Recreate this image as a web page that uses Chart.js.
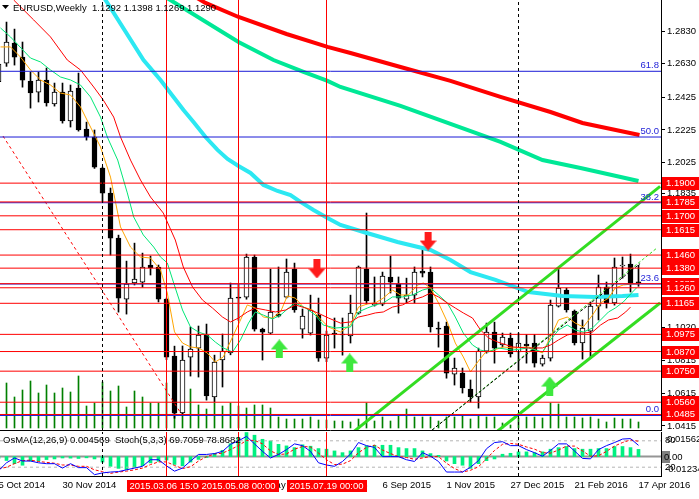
<!DOCTYPE html>
<html>
<head>
<meta charset="utf-8">
<script src="https://cdn.jsdelivr.net/npm/chart.js@4.4.1/dist/chart.umd.min.js"></script>
<style>
  html, body { margin: 0; padding: 0; background: #fff; overflow: hidden; }
  #main { position: absolute; left: 0; top: 0; width: 699px; height: 431px; }
  #osc { position: absolute; left: 0; top: 432px; width: 699px; height: 67px; }
</style>
</head>
<body>
<canvas id="main" width="699" height="431"></canvas>
<canvas id="osc" width="699" height="67"></canvas>
<script>
// weekly EURUSD bars, index 0 = week of 5 Oct 2014, index 80 = week of 17 Apr 2016
const opens = [
  1.2520, 1.2634, 1.2757, 1.2671, 1.2524, 1.2457, 1.2530, 1.2384, 1.2457, 1.2280,
  1.2481, 1.2231, 1.2182, 1.1992, 1.1839, 1.1564, 1.1191, 1.1289, 1.1295, 1.1399,
  1.1387, 1.1191, 1.0842, 1.0494, 1.0836, 1.0891, 1.0971, 1.0592, 1.0818, 1.0861,
  1.1203, 1.1203, 1.1448, 1.1007, 1.0983, 1.1099, 1.1203, 1.1374, 1.1007, 1.0983,
  1.1093, 1.0830, 1.0983, 1.0977, 1.0965, 1.1105, 1.1374, 1.1154, 1.1160, 1.1326,
  1.1283, 1.1191, 1.1215, 1.1362, 1.1356, 1.1013, 1.1026, 1.0732, 1.0738, 1.0641,
  1.0592, 1.0873, 1.0989, 1.0910, 1.0953, 1.0867, 1.0916, 1.0922, 1.0793, 1.0830,
  1.1148, 1.1246, 1.1118, 1.0922, 1.0995, 1.1148, 1.1264, 1.1167, 1.1393, 1.1405,
  1.1292
];
const highs = [
  1.2790, 1.2885, 1.2842, 1.2763, 1.2579, 1.2579, 1.2604, 1.2512, 1.2512, 1.2500,
  1.2573, 1.2273, 1.2225, 1.1998, 1.1870, 1.1582, 1.1423, 1.1533, 1.1472, 1.1454,
  1.1399, 1.1197, 1.0903, 1.0904, 1.1020, 1.1026, 1.1038, 1.0848, 1.0977, 1.1289,
  1.1280, 1.1466, 1.1460, 1.1013, 1.1374, 1.1387, 1.1436, 1.1411, 1.1130, 1.1215,
  1.1197, 1.0995, 1.1075, 1.1075, 1.1215, 1.1393, 1.1717, 1.1326, 1.1356, 1.1454,
  1.1326, 1.1319, 1.1387, 1.1503, 1.1387, 1.1050, 1.1050, 1.0830, 1.0769, 1.0696,
  1.0891, 1.1044, 1.1050, 1.0983, 1.0983, 1.0983, 1.0975, 1.0975, 1.0848, 1.1185,
  1.1380, 1.1258, 1.1124, 1.1063, 1.1173, 1.1338, 1.1295, 1.1442, 1.1448, 1.1466,
  1.1398
];
const lows = [
  1.2500, 1.2614, 1.2622, 1.2487, 1.2359, 1.2396, 1.2371, 1.2371, 1.2267, 1.2243,
  1.2218, 1.2163, 1.1990, 1.1784, 1.1460, 1.1111, 1.1099, 1.1277, 1.1264, 1.1338,
  1.1173, 1.0820, 1.0462, 1.0480, 1.0720, 1.0714, 1.0573, 1.0561, 1.0653, 1.0850,
  1.1060, 1.1190, 1.0995, 1.0818, 1.0977, 1.1081, 1.1197, 1.1110, 1.0952, 1.0971,
  1.0810, 1.0808, 1.0891, 1.0848, 1.0922, 1.1099, 1.1160, 1.1148, 1.1150, 1.1228,
  1.1105, 1.1167, 1.1167, 1.1326, 1.0989, 1.0897, 1.0707, 1.0665, 1.0616, 1.0561,
  1.0524, 1.0860, 1.0799, 1.0897, 1.0836, 1.0757, 1.0799, 1.0775, 1.0781, 1.0812,
  1.1142, 1.1111, 1.0910, 1.0824, 1.0830, 1.1063, 1.1136, 1.1154, 1.1319, 1.1234,
  1.1269
];
const closes = [
  1.2628, 1.2763, 1.2671, 1.2530, 1.2451, 1.2530, 1.2390, 1.2457, 1.2280, 1.2463,
  1.2225, 1.2182, 1.1998, 1.1839, 1.1564, 1.1197, 1.1283, 1.1313, 1.1387, 1.1381,
  1.1191, 1.0836, 1.0493, 1.0818, 1.0885, 1.0971, 1.0598, 1.0806, 1.0873, 1.1197,
  1.1197, 1.1448, 1.1007, 1.0989, 1.1111, 1.1087, 1.1356, 1.1124, 1.1087, 1.1124,
  1.0830, 1.0971, 1.0977, 1.0971, 1.1105, 1.1387, 1.1179, 1.1167, 1.1332, 1.1295,
  1.1197, 1.1215, 1.1356, 1.1350, 1.1020, 1.1007, 1.0738, 1.0769, 1.0647, 1.0592,
  1.0873, 1.0989, 1.0891, 1.0959, 1.0855, 1.0922, 1.0904, 1.0799, 1.0830, 1.1154,
  1.1258, 1.1124, 1.0922, 1.1014, 1.1148, 1.1264, 1.1167, 1.1387, 1.1399, 1.1289,
  1.1290
];
// tick volume, thousands
const volumeK = [
  40, 45, 31, 38, 47, 35, 43, 35, 40, 36,
  52, 22, 25, 46, 37, 42, 21, 37, 31, 25,
  25, 45, 43, 36, 39, 23, 19, 25, 22, 25,
  22, 20, 23, 23, 20, 11, 9, 9, 9, 11,
  8, 8, 7, 7, 6, 9, 25, 7, 11, 7,
  12, 19, 11, 11, 11, 7, 11, 11, 13, 9,
  13, 11, 11, 5, 3, 10, 11, 11, 10, 25,
  24, 11, 11, 10, 11, 9, 6, 10, 9, 9,
  6
];
const osma = [
  -0.0012, -0.0025, -0.0045, -0.0055, -0.0028, -0.0027, -0.0019, -0.0015, -0.0009, -0.0010,
  -0.0012, -0.0008, -0.0015, -0.0035, -0.0062, -0.0075, -0.0082, -0.0068, -0.0058, -0.0040,
  -0.0030, -0.0022, -0.0050, -0.0058, -0.0035, -0.0018, -0.0006, 0.0020, 0.0040, 0.0082,
  0.0120, 0.0153, 0.0136, 0.0110, 0.0100, 0.0078, 0.0068, 0.0057, 0.0075, 0.0066,
  0.0051, 0.0047, 0.0036, 0.0025, 0.0036, 0.0057, 0.0068, 0.0072, 0.0072, 0.0072,
  0.0057, 0.0051, 0.0051, 0.0036, 0.0019, 0.0008, -0.0028, -0.0045, -0.0055, -0.0075,
  -0.0045, -0.0026, -0.0015, 0.0015, 0.0021, 0.0030, 0.0030, 0.0025, 0.0030, 0.0047,
  0.0057, 0.0064, 0.0051, 0.0047, 0.0047, 0.0051, 0.0051, 0.0064, 0.0064, 0.0057,
  0.004569
];
const stochMain = [
  12, 30, 41, 34, 34, 30, 28, 28, 18, 28,
  19, 19, 3, 7, 9, 10, 14, 18, 22, 37,
  37, 23, 11, 18, 34, 49, 49, 51, 56, 72,
  80, 90, 73, 56, 41, 49, 60, 73, 69, 56,
  30, 25, 22, 33, 50, 76, 69, 65, 44, 44,
  44, 37, 33, 53, 45, 33, 9, 9, 9, 20,
  35, 62, 76, 78, 69, 69, 60, 53, 45, 58,
  73, 73, 57, 40, 39, 60, 69, 76, 84, 85,
  69.7059
];
const stochSignal = [
  16, 20, 28, 35, 36, 33, 31, 29, 25, 25,
  22, 22, 14, 10, 6, 9, 11, 14, 18, 26,
  32, 32, 24, 17, 21, 34, 44, 50, 52, 60,
  69, 81, 81, 73, 57, 49, 50, 61, 67, 66,
  52, 37, 26, 27, 35, 53, 65, 70, 59, 51,
  44, 42, 38, 41, 44, 44, 29, 17, 9, 13,
  21, 39, 58, 72, 74, 72, 66, 61, 53, 52,
  59, 68, 68, 57, 45, 46, 56, 68, 76, 82,
  78.8682
];

// moving averages: [bar index, price]
const maFast = [[0.25,1.2733],[1.5,1.2733],[2.75,1.2671],[4,1.2592],[5.25,1.2531],[6.5,1.2500],[7.75,1.2451],[9,1.2439],[10.25,1.2366],[11.5,1.2243],[12.75,1.2121],[14,1.1937],[15.25,1.1632],[16.5,1.1509],[17.75,1.1448],[19,1.1442],[20.25,1.1369],[21.1,1.1228],[22,1.0990],[23,1.0922],[24,1.0898],[25,1.0892],[26.1,1.0861],[27.1,1.0806],[28.1,1.0837],[29.25,1.0959],[30.25,1.1063],[31.1,1.1155],[32.1,1.1136],[33.1,1.1081],[34.25,1.1075],[35.25,1.1112],[36.1,1.1210],[37.1,1.1197],[38.1,1.1142],[39.25,1.1124],[40,1.1081],[41.25,1.1020],[42.75,1.0989],[44,1.1032],[45,1.1142],[46.1,1.1161],[47.1,1.1167],[48.1,1.1197],[49.25,1.1246],[50.25,1.1216],[51.25,1.1216],[52.4,1.1277],[53.1,1.1289],[54,1.1259],[55,1.1167],[56.1,1.1051],[57.1,1.0922],[58.1,1.0837],[59,1.0745],[59.9,1.0806],[60.9,1.0867],[61.9,1.0879],[63.1,1.0898],[64.25,1.0892],[66.25,1.0898],[68,1.0861],[69,1.0959],[70,1.1063],[71.1,1.1081],[72.1,1.1044],[73.1,1.1020],[74.25,1.1093],[75.25,1.1167],[76.25,1.1197],[77.1,1.1259],[78.1,1.1277],[79.25,1.1283],[80,1.1283]];
const maMid = [[0.25,1.2849],[1.5,1.2794],[4,1.2665],[5.25,1.2641],[6.5,1.2592],[7.75,1.2549],[9,1.2531],[10.25,1.2500],[11.5,1.2427],[12.75,1.2304],[13.6,1.2182],[14.9,1.2041],[16.1,1.1840],[16.9,1.1693],[18.1,1.1583],[19.4,1.1509],[20.25,1.1448],[21.1,1.1412],[21.9,1.1289],[23,1.1124],[24,1.1020],[25,1.0989],[26.1,1.0971],[27.1,1.0928],[28.1,1.0892],[29.25,1.0867],[30.25,1.0941],[31.25,1.1044],[32.1,1.1112],[33.1,1.1093],[34.25,1.1069],[35.25,1.1093],[36.25,1.1136],[37.1,1.1167],[38.4,1.1136],[39.6,1.1093],[40.6,1.1032],[42.1,1.1014],[44,1.1020],[45,1.1112],[46.1,1.1136],[47.1,1.1155],[48.1,1.1167],[49.25,1.1204],[50.5,1.1204],[51.75,1.1216],[53,1.1246],[54,1.1259],[55,1.1216],[56.1,1.1167],[57.1,1.1081],[58.1,1.0983],[59.25,1.0910],[60.25,1.0879],[61.25,1.0867],[62.4,1.0892],[64.25,1.0879],[66.25,1.0892],[68,1.0867],[69,1.0941],[70,1.1002],[71.1,1.1032],[72.1,1.1002],[73.1,1.0989],[74.25,1.1014],[75.25,1.1063],[76.25,1.1112],[77.1,1.1136],[78.1,1.1173],[79.25,1.1234],[79.75,1.1259]];
const maSlow = [[1.9,1.3020],[4.4,1.2898],[6.5,1.2794],[8.6,1.2653],[10.25,1.2592],[11.9,1.2488],[13.1,1.2408],[14.4,1.2304],[15.25,1.2182],[16.5,1.2041],[17.75,1.1919],[19,1.1815],[20.6,1.1717],[22.1,1.1552],[23.1,1.1387],[24.25,1.1265],[25.5,1.1185],[26.75,1.1136],[28,1.1081],[29,1.1051],[30,1.1075],[31.1,1.1112],[32.1,1.1136],[33.4,1.1124],[34.6,1.1112],[35.9,1.1124],[37.1,1.1155],[38.4,1.1136],[39.9,1.1106],[41.25,1.1075],[42.75,1.1044],[44,1.1051],[45,1.1081],[46.1,1.1093],[47.1,1.1106],[48.1,1.1112],[49.25,1.1142],[50.5,1.1155],[51.75,1.1185],[53,1.1204],[54,1.1228],[55,1.1204],[56.1,1.1167],[57.1,1.1136],[58.1,1.1106],[59.25,1.1075],[60.25,1.1002],[61.25,1.0953],[62.4,1.0928],[64.25,1.0898],[66.25,1.0892],[68,1.0892],[69,1.0910],[70,1.0941],[71.1,1.0971],[72.1,1.0983],[73.1,1.0983],[74.25,1.0989],[75.25,1.1032],[76.25,1.1063],[77.4,1.1075],[78.4,1.1112],[79,1.1142]];
const maCyan = [[12.75,1.3069],[13.375,1.3020],[18.125,1.2653],[20.25,1.2531],[21.875,1.2427],[23.125,1.2347],[24.375,1.2274],[25.875,1.2182],[27.375,1.2103],[28.625,1.2048],[30,1.2005],[31.5,1.1962],[33.125,1.1889],[34.875,1.1852],[36.5,1.1827],[37.75,1.1785],[39.375,1.1736],[41.125,1.1687],[42.75,1.1644],[45.625,1.1601],[49.875,1.1540],[54,1.1491],[56.5,1.1430],[59,1.1356],[62.125,1.1308],[66.25,1.1234],[70.5,1.1210],[74.625,1.1204],[78,1.1210],[80,1.1216]];
const maGreen = [[20.875,1.3038],[30,1.2763],[34.375,1.2653],[38.125,1.2580],[41.125,1.2525],[42.75,1.2488],[50.25,1.2372],[56.5,1.2262],[62.75,1.2152],[68,1.2041],[72.75,1.1993],[80,1.1913]];
const maRed = [[24.625,1.3038],[25.875,1.3002],[30,1.2916],[36,1.2812],[41.125,1.2733],[44,1.2696],[50.25,1.2610],[56.5,1.2525],[62.75,1.2427],[69,1.2335],[73,1.2268],[80.125,1.2194]];

// drawn objects
const levelPrices = [1.1900, 1.1785, 1.1700, 1.1615, 1.1460, 1.1380, 1.1285, 1.1260, 1.1165, 1.0975, 1.0870, 1.0750, 1.0560, 1.0485];
const fibLabels = ['0.0', '23.6', '38.2', '50.0', '61.8'];
const fibPrices = [1.0479, 1.1283, 1.1780, 1.2182, 1.2584];
const redMarks = [21, 30, 41];
const redMarkLabels = ['2015.03.06 15:00', '2015.05.08 00:00', '2015.07.19 00:00'];
const yearSeps = [13, 65];
const channelUpper = [[44.2, 1.0372], [82.7, 1.1880]];
const channelLower = [[62.4, 1.0384], [82.7, 1.1167]];
const channelMid = [[54.2, 1.0390], [82.3, 1.1503]];
const trendMid = [[54.2, 1.0390], [80.2, 1.1408]];
const trendDown = [[0.56, 1.2188], [22.7, 1.0500]];
const arrowDownAt = [39.8, 53.7], arrowDownPrice = [1.1375, 1.1546];
const arrowUpAt = [35.1, 43.9, 68.9], arrowUpPrice = [1.0886, 1.0800, 1.0659];

// axes
const priceTicks = [1.0415, 1.0615, 1.0815, 1.1020, 1.1230, 1.1435, 1.1625, 1.1835, 1.2025, 1.2225, 1.2425, 1.2630, 1.2830];
const dateTicks = [0, 8, 16, 24, 32, 40, 48, 56, 64, 72, 80];
const dateLabels = ['5 Oct 2014', '30 Nov 2014', '25 Jan 2015', '22 Mar 2015', '17 May 2015', '12 Jul 2015', '6 Sep 2015', '1 Nov 2015', '27 Dec 2015', '21 Feb 2016', '17 Apr 2016'];
const symbolTitle = 'EURUSD,Weekly';

const X_MIN = 0.1875, X_MAX = 82.8125;
const Y_MIN = 1.0384, Y_MAX = 1.3020;
const OSMA_MIN = -0.012344, OSMA_MAX = 0.015628;
const FONT = '"Liberation Sans", Arial, sans-serif';
Chart.defaults.font.family = FONT;
Chart.defaults.font.size = 9.5;
Chart.defaults.color = '#000';

const path = (pts, color, width, dash, order, axis) => ({
  type: 'line',
  data: pts.map(([x, y]) => ({ x, y })),
  yAxisID: axis || 'y',
  borderColor: color,
  borderWidth: width,
  borderDash: dash || [],
  pointRadius: 0,
  fill: false,
  order
});
const hline = (p, color, width, dash, order, axis) =>
  path([[X_MIN, p], [X_MAX, p]], color, width, dash, order, axis);
const vline = (i, color, dash, lo, hi, axis) =>
  path([[i, lo], [i, hi]], color, 1, dash, 1, axis);

function arrowIcon(fill, up) {
  const c = document.createElement('canvas');
  c.width = 17; c.height = 19;
  const g = c.getContext('2d');
  if (up) { g.translate(0, 19); g.scale(1, -1); }
  g.beginPath();
  g.moveTo(5, 0); g.lineTo(12, 0); g.lineTo(12, 9); g.lineTo(17, 9);
  g.lineTo(8.5, 19); g.lineTo(0, 9); g.lineTo(5, 9); g.closePath();
  g.fillStyle = fill;
  g.fill();
  return c;
}
const arrows = (at, price, icon) => ({
  type: 'line',
  data: at.map((x, k) => ({ x, y: price[k] })),
  showLine: false,
  pointStyle: icon,
  pointRadius: 6,
  order: 0
});

const mainSets = [
  { type: 'bar', data: volumeK.map((v, i) => ({ x: i, y: v })), yAxisID: 'yv',
    backgroundColor: '#008000', barThickness: 1, grouped: false, order: 9 },
  { type: 'bar', data: lows.map((l, i) => ({ x: i, y: [l, highs[i]] })),
    backgroundColor: '#000', barThickness: 1, grouped: false, order: 8 },
  { type: 'bar', data: opens.map((o, i) => ({ x: i, y: [o, closes[i]] })),
    backgroundColor: opens.map((o, i) => closes[i] > o ? '#fff' : '#000'),
    borderColor: '#000', borderWidth: 1, borderSkipped: false,
    barThickness: 5, minBarLength: 1, grouped: false, order: 7 },
  path(maRed, '#ff0000', 4, null, 5),
  path(maGreen, '#00e896', 4, null, 5),
  path(maCyan, '#2ce8f2', 4, null, 5),
  path(maSlow, '#ff0000', 1, null, 4),
  path(maMid, '#00e676', 1, null, 4),
  path(maFast, '#ffa500', 1, null, 4),
  ...fibPrices.map(p => hline(p, '#1a1ad6', 1, null, 3)),
  ...levelPrices.map(p => hline(p, '#ff0000', 1, null, 2)),
  path(trendDown, '#ff0000', 1, [3, 3], 3),
  path(channelUpper, '#33dd22', 3, null, 3),
  path(channelLower, '#33dd22', 3, null, 3),
  path(channelMid, '#33dd22', 1, [3, 2], 3),
  path(trendMid, '#000', 1, [3, 2], 2),
  ...redMarks.map(i => vline(i, '#ff0000', null, Y_MIN, Y_MAX)),
  ...yearSeps.map(i => vline(i, '#000', [3, 3], Y_MIN, Y_MAX)),
  arrows(arrowDownAt, arrowDownPrice, arrowIcon('#ff1a1a', false)),
  arrows(arrowUpAt, arrowUpPrice, arrowIcon('#3ee83e', true))
];

const mainDecor = {
  id: 'mainDecor',
  afterDraw(chart) {
    const { ctx, chartArea: a } = chart;
    const y = chart.scales.y;
    ctx.save();
    ctx.strokeStyle = '#000';
    ctx.lineWidth = 1;
    ctx.beginPath();
    ctx.moveTo(0, a.bottom - 0.5);
    ctx.lineTo(a.right, a.bottom - 0.5);
    ctx.stroke();

    ctx.fillStyle = '#000';
    ctx.beginPath();
    ctx.moveTo(2, 5); ctx.lineTo(9, 5); ctx.lineTo(5.5, 9); ctx.closePath();
    ctx.fill();
    ctx.font = '9.5px ' + FONT;
    ctx.textBaseline = 'middle';
    ctx.textAlign = 'left';
    const last = opens.length - 1;
    ctx.fillText(symbolTitle + '  ' + [opens[last], highs[last], lows[last], closes[last]]
      .map(v => v.toFixed(4)).join(' '), 13, 8);

    ctx.fillStyle = '#2424d8';
    ctx.textAlign = 'right';
    ctx.textBaseline = 'bottom';
    fibPrices.forEach((p, k) => ctx.fillText(fibLabels[k], a.right - 2, y.getPixelForValue(p) - 1));

    ctx.textAlign = 'left';
    ctx.textBaseline = 'middle';
    levelPrices.forEach(p => {
      const py = Math.round(y.getPixelForValue(p));
      ctx.fillStyle = '#ff0000';
      ctx.fillRect(a.right + 1, py - 6, 37, 13);
      ctx.fillStyle = '#fff';
      ctx.fillText(p.toFixed(4), a.right + 5, py + 0.5);
    });
    ctx.restore();
  }
};

new Chart(document.getElementById('main'), {
  type: 'bar',
  data: { datasets: mainSets },
  options: {
    responsive: false,
    animation: false,
    events: [],
    layout: { padding: 0, autoPadding: false },
    plugins: { legend: { display: false }, tooltip: { enabled: false } },
    scales: {
      x: { type: 'linear', min: X_MIN, max: X_MAX, display: false, offset: false },
      y: {
        type: 'linear', position: 'right', min: Y_MIN, max: Y_MAX,
        afterFit(s) { s.width = 38; s.paddingTop = 0; s.paddingBottom = 0; },
        afterBuildTicks(s) { s.ticks = priceTicks.map(v => ({ value: v })); },
        ticks: { callback: v => Number(v).toFixed(4), padding: 2, color: '#000' },
        grid: { drawOnChartArea: false, drawTicks: true, tickLength: 4, color: '#000' },
        border: { display: true, color: '#000' }
      },
      yv: { type: 'linear', display: false, min: -3, max: 428 }
    }
  },
  plugins: [mainDecor]
});

const last = osma.length - 1;
const oscTitle = 'OsMA(12,26,9) ' + osma[last].toFixed(6) + '  Stoch(5,3,3) ' +
  stochMain[last].toFixed(4) + ' ' + stochSignal[last].toFixed(4);

const oscSets = [
  hline(0, '#959595', 2, null, 8, 'yo'),
  { type: 'bar', data: osma.map((v, i) => ({ x: i, y: v })), yAxisID: 'yo',
    backgroundColor: '#00f080', barThickness: 3, grouped: false, order: 6 },
  hline(80, '#b4b4b4', 1, [3, 3], 5, 'ys'),
  hline(20, '#b4b4b4', 1, [3, 3], 5, 'ys'),
  path(stochSignal.map((v, i) => [i, v]), '#ff0000', 1, [3, 2], 3, 'ys'),
  path(stochMain.map((v, i) => [i, v]), '#0000ff', 1, null, 2, 'ys'),
  ...redMarks.map(i => vline(i, '#ff0000', null, 0, 100, 'ys')),
  ...yearSeps.map(i => vline(i, '#000', [3, 3], 0, 100, 'ys'))
];

const oscDecor = {
  id: 'oscDecor',
  afterDraw(chart) {
    const { ctx, chartArea: a } = chart;
    const x = chart.scales.x;
    ctx.save();
    ctx.font = '9.5px ' + FONT;
    ctx.textBaseline = 'middle';
    ctx.textAlign = 'left';
    ctx.fillStyle = '#000';
    ctx.fillText(oscTitle, 3, a.top + 8.5);

    ctx.fillText(OSMA_MAX.toFixed(6), a.right + 6, a.top + 7);
    ctx.fillText(OSMA_MIN.toFixed(6), a.right + 4, a.top + 37);
    ctx.fillStyle = '#808080';
    ctx.fillRect(a.right + 1, a.top + 19, 8, 12);
    ctx.fillStyle = '#000';
    ctx.fillText((0).toFixed(2), a.right + 3, a.top + 25);

    ctx.textAlign = 'center';
    redMarks.forEach((i, k) => {
      const cx = x.getPixelForValue(i);
      const w = ctx.measureText(redMarkLabels[k]).width + 6;
      ctx.fillStyle = '#ff0000';
      ctx.fillRect(Math.round(cx - w / 2), a.bottom + 4, Math.round(w), 12);
      ctx.fillStyle = '#fff';
      ctx.fillText(redMarkLabels[k], cx, a.bottom + 10.5);
    });
    ctx.restore();
  }
};

new Chart(document.getElementById('osc'), {
  type: 'bar',
  data: { datasets: oscSets },
  options: {
    responsive: false,
    animation: false,
    events: [],
    layout: { padding: 0, autoPadding: false },
    plugins: { legend: { display: false }, tooltip: { enabled: false } },
    scales: {
      x: {
        type: 'linear', min: X_MIN, max: X_MAX, offset: false, position: 'bottom',
        afterFit(s) { s.height = 23; s.paddingLeft = 0; s.paddingRight = 0; },
        afterBuildTicks(s) { s.ticks = dateTicks.map(v => ({ value: v })); },
        ticks: {
          autoSkip: false, maxRotation: 0, minRotation: 0, align: 'start', padding: 4,
          color: '#000', callback: v => dateLabels[dateTicks.indexOf(v)]
        },
        grid: { drawOnChartArea: false, drawTicks: false },
        border: { display: true, color: '#000' }
      },
      ys: {
        type: 'linear', position: 'right', min: 0, max: 100,
        afterFit(s) { s.width = 38; s.paddingTop = 0; s.paddingBottom = 0; },
        afterBuildTicks(s) { s.ticks = [{ value: 20 }, { value: 80 }]; },
        ticks: { padding: 4, color: '#000' },
        grid: { drawOnChartArea: false, drawTicks: false },
        border: { display: true, color: '#000' }
      },
      yo: { type: 'linear', display: false, min: OSMA_MIN, max: OSMA_MAX }
    }
  },
  plugins: [oscDecor]
});
</script>
</body>
</html>
